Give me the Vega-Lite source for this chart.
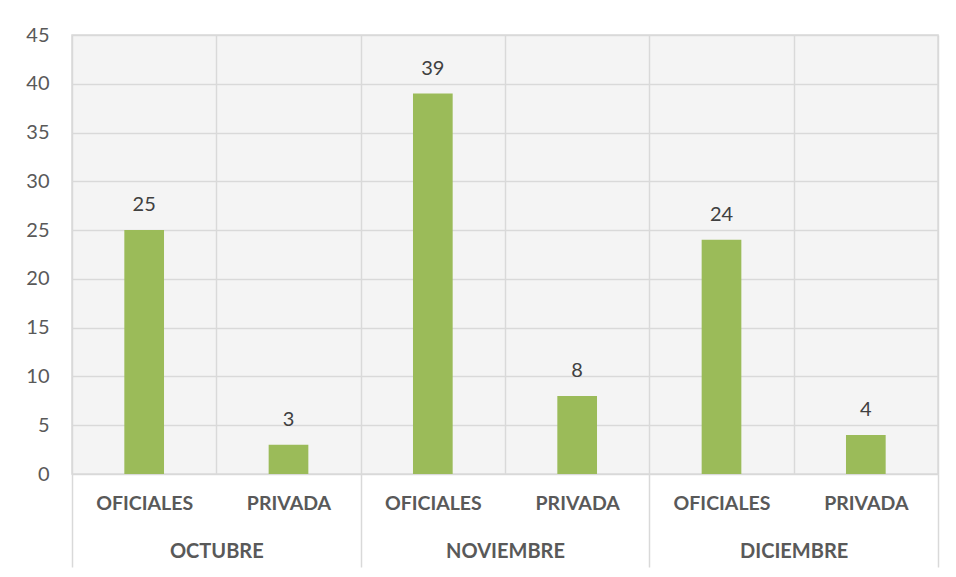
{
  "$schema": "https://vega.github.io/schema/vega-lite/v6.json",
  "width": 866,
  "height": 439,
  "autosize": {"type": "none"},
  "padding": {"left": 72, "top": 35, "right": 18, "bottom": 103},
  "background": "white",
  "config": {
    "view": {"fill": "#f4f4f4", "stroke": "#d9d9d9", "strokeWidth": 1.5},
    "font": "Lato"
  },
  "data": {
    "values": [
      {"cat": "OCTUBRE|OFICIALES", "month": "OCTUBRE", "type": "OFICIALES", "value": 25},
      {"cat": "OCTUBRE|PRIVADA", "month": "OCTUBRE", "type": "PRIVADA", "value": 3},
      {"cat": "NOVIEMBRE|OFICIALES", "month": "NOVIEMBRE", "type": "OFICIALES", "value": 39},
      {"cat": "NOVIEMBRE|PRIVADA", "month": "NOVIEMBRE", "type": "PRIVADA", "value": 8},
      {"cat": "DICIEMBRE|OFICIALES", "month": "DICIEMBRE", "type": "OFICIALES", "value": 24},
      {"cat": "DICIEMBRE|PRIVADA", "month": "DICIEMBRE", "type": "PRIVADA", "value": 4}
    ]
  },
  "layer": [
    {
      "mark": {"type": "bar", "color": "#9bbb59", "width": {"band": 0.275}},
      "encoding": {
        "x": {
          "field": "cat", "type": "nominal", "sort": null,
          "scale": {"paddingInner": 0, "paddingOuter": 0},
          "axis": {
            "title": null, "labelExpr": "split(datum.label, '|')[1]",
            "labelAngle": 0, "labelFontSize": 19.5, "labelFontWeight": "bold",
            "labelColor": "#595959", "labelPadding": 20, "ticks": false,
            "domain": false, "grid": true, "gridColor": "#d9d9d9", "gridWidth": 1.5,
            "tickBand": "extent"
          }
        },
        "y": {
          "field": "value", "type": "quantitative",
          "scale": {"domain": [0, 45], "nice": false},
          "axis": {
            "title": null, "values": [0, 5, 10, 15, 20, 25, 30, 35, 40, 45],
            "labelFontSize": 20, "labelColor": "#595959", "labelPadding": 23,
            "ticks": false, "domain": false, "gridColor": "#d9d9d9", "gridWidth": 1.5
          }
        }
      }
    },
    {
      "mark": {"type": "text", "dy": -25, "fontSize": 20, "color": "#404040"},
      "encoding": {
        "x": {"field": "cat", "type": "nominal", "sort": null, "scale": {"paddingInner": 0, "paddingOuter": 0}, "axis": null},
        "y": {"field": "value", "type": "quantitative", "scale": {"domain": [0, 45], "nice": false}},
        "text": {"field": "value", "type": "quantitative"}
      }
    },
    {
      "mark": {"type": "point", "opacity": 0},
      "encoding": {
        "x": {
          "field": "month", "type": "nominal", "sort": null,
          "scale": {"type": "band", "paddingInner": 0, "paddingOuter": 0},
          "axis": {
            "title": null, "orient": "bottom", "labelAngle": 0, "labelFontSize": 20,
            "labelFontWeight": "bold", "labelColor": "#595959",
            "ticks": true, "tickBand": "extent", "tickSize": 93, "tickColor": "#d9d9d9",
            "tickWidth": 1.5, "labelPadding": -26, "domain": false, "grid": false
          }
        },
        "y": {"field": "value", "type": "quantitative", "scale": {"domain": [0, 45], "nice": false}}
      }
    }
  ],
  "resolve": {"scale": {"x": "independent"}, "axis": {"x": "independent"}}
}
